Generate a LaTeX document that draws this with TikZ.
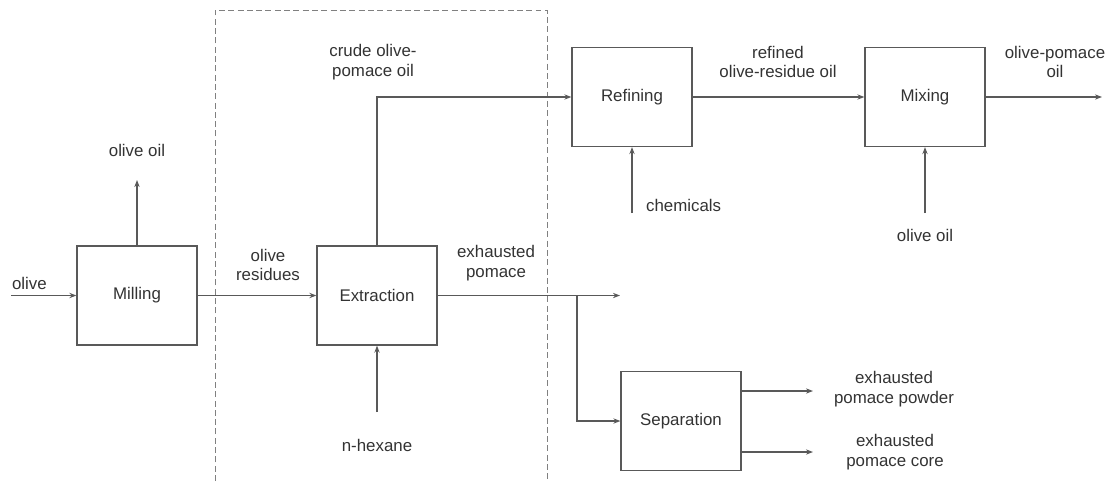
\documentclass[tikz,border=0pt]{standalone}
\usepackage{fontspec}
\setmainfont{Liberation Sans}
\usetikzlibrary{arrows.meta}
\tikzset{
	proc/.style={draw=black!65, line width=0.7pt, minimum width=2.4cm, minimum height=1.98cm, inner sep=0pt, text=black!80, font=\fontsize{9.6}{11.3}\selectfont},
	lbl/.style={text=black!80, align=center, inner sep=1pt, font=\fontsize{9.6}{11.3}\selectfont},
	flow/.style={draw=black!65, line width=0.7pt, -{Stealth[length=4pt,width=3pt]}}
}

\begin{document}
\begin{tikzpicture}[x=0.02cm, y=-0.02cm]
			%%%%% START %%%%%
			\useasboundingbox (0,0) rectangle (1115,481);
			
			% dashed extraction area
			\draw[black!50, line width=0.55pt, dash pattern=on 3.4pt off 1.9pt] (215,481) -- (215,10) -- (547,10) -- (547,481);
			
			% process boxes
			\node[proc] (mill) at (137,295.5) {Milling};
			\node[proc] (extr) at (377,295.5) {Extraction};
			\node[proc] (refi) at (632,97) {Refining};
			\node[proc] (mix) at (925,97) {Mixing};
			\node[proc] (sep) at (681,421) {Separation};
			
			% free ends
			\coordinate (olivein) at (11,295.5);
			\coordinate (oiltop) at (137,180);
			\coordinate (hexane) at (377,412);
			\coordinate (chem) at (632,213);
			\coordinate (oilin) at (925,213);
			\coordinate (mixout) at (1102,97);
			\coordinate (pomout) at (620,295.5);
			\coordinate (branch) at (577,295.5);
			\coordinate (powder) at (813,391);
			\coordinate (core) at (813,452);
			
			% labels
			\node[lbl, anchor=west] (lolive) at (10,283) {olive};
			\node[lbl] (loiltop) at (137,150) {olive oil};
			\node[lbl] (lresid) at (268,265) {olive\\residues};
			\node[lbl] (lcrude) at (373,62) {crude olive-\\pomace oil};
			\node[lbl] (lexh) at (496,263) {exhausted\\pomace};
			\node[lbl] (lhex) at (377,445) {n-hexane};
			\node[lbl, anchor=west] (lchem) at (644,205) {chemicals};
			\node[lbl] (lrefd) at (778,62) {refined\\olive-residue oil};
			\node[lbl] (lpomoil) at (1055,62) {olive-pomace\\oil};
			\node[lbl] (loilin) at (925,235) {olive oil};
			\node[lbl] (lpowder) at (894,389) {exhausted\\pomace powder};
			\node[lbl] (lcore) at (895,452) {exhausted\\pomace core};
			
			% flows
			\draw[flow] (olivein) -- (mill.west);
			\draw[flow] (mill.north) -- (oiltop);
			\draw[flow] (mill.east) -- (extr.west);
			\draw[flow] (extr.north) |- (refi.west);
			\draw[flow] (hexane) -- (extr.south);
			\draw[flow] (extr.east) -- (pomout);
			\draw[flow] (branch) |- (sep.west);
			\draw[flow] (chem) -- (refi.south);
			\draw[flow] (refi.east) -- (mix.west);
			\draw[flow] (oilin) -- (mix.south);
			\draw[flow] (mix.east) -- (mixout);
			\draw[flow] (sep.east |- powder) -- (powder);
			\draw[flow] (sep.east |- core) -- (core);
			
			%%%%% END %%%%%
\end{tikzpicture}
\end{document}
